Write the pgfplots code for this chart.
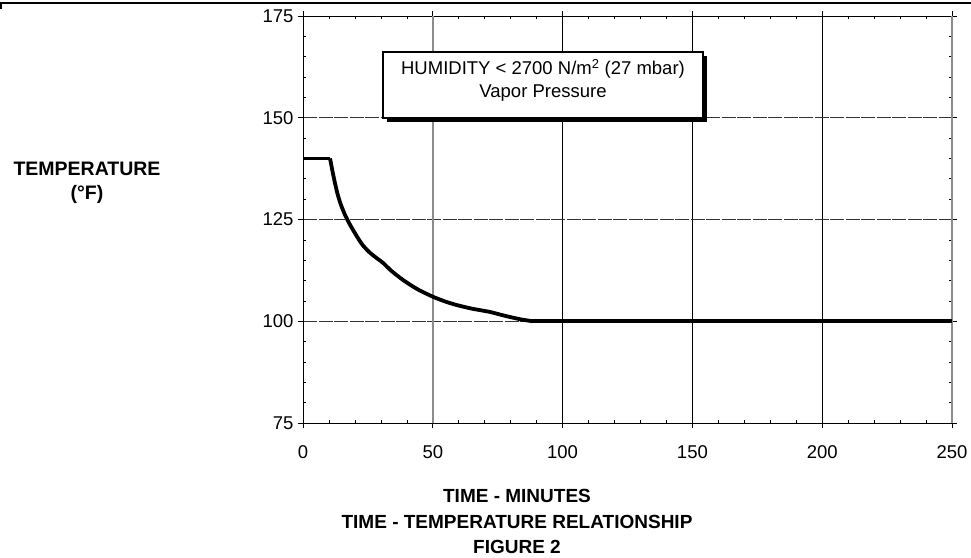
\documentclass[border=0pt]{standalone}
\usepackage{fontspec}
\setmainfont{Liberation Sans}
\usepackage{pgfplots}
\pgfplotsset{compat=1.18}
\begin{document}
\begin{tikzpicture}[x=1pt,y=1pt]
\path[use as bounding box] (0pt,0pt) rectangle (971pt,557pt);
\draw[line width=2pt] (0pt,553.5pt) -- (971pt,553.5pt);
\draw[line width=1.5pt] (0.75pt,553pt) -- (0.75pt,548pt);
\begin{axis}[
  at={(303pt,134pt)}, anchor=south west,
  scale only axis, width=649pt, height=407pt,
  xmin=0, xmax=250, ymin=75, ymax=175,
  xtick={0,50,...,250}, ytick={75,100,...,175},
  tick align=outside, major tick length=5pt,
  minor tick num=0,
  extra x ticks={10,20,30,40,60,70,80,90,110,120,130,140,160,170,180,190,210,220,230,240},
  extra y ticks={80,85,90,95,105,110,115,120,130,135,140,145,155,160,165,170},
  extra x tick labels={}, extra y tick labels={},
  extra tick style={tick align=inside, major tick length=3pt, grid=none, tick style={line width=0.6pt}},
  tick style={black, line width=0.8pt},
  grid=major,
  x grid style={black, line width=0.7pt},
  y grid style={black!80, line width=0.7pt, dash pattern=on 14pt off 1.5pt},
  axis line style={line width=0.8pt},
  /pgf/number format/assume math mode=true,
  ticklabel style={font=\fontsize{18.5}{18.5}\selectfont},
  xticklabel style={yshift=-14pt},
  yticklabel style={xshift=-1pt},
  clip=false,
]
\draw[black!45, line width=2pt] (axis cs:50,75) -- (axis cs:50,175);
\draw[black!45, line width=2pt] (axis cs:250,75) -- (axis cs:250,175);
\addplot[black, line width=3.8pt, line join=round] coordinates {
(0,140) (10.4,140)};
\addplot[black, line width=3.8pt, line join=round, smooth, tension=0.4] coordinates {
(10.4,140) (10.9,138.4) (11.5,136.4) (12.3,134) (13.3,131.3) (14.5,128.8)
(16,126.4) (17.6,124.3) (19.3,122.4) (21,120.6) (23,118.7) (25.5,117)
(28,115.7) (30.9,114.3) (34,112.4) (38.6,110.1) (44,107.9) (50.1,106.0)
(55,104.8) (59.1,104.0) (65,103.1) (71.9,102.3) (78,101.3) (84,100.45)
(88.5,100)};
\addplot[black, line width=3.8pt] coordinates {(88,100) (250,100)};
\end{axis}
% annotation box with shadow
\fill[black] (387pt,435pt) rectangle (707pt,501pt);
\draw[fill=white, line width=1.2pt] (383pt,439pt) rectangle (703pt,505pt);
\node[anchor=base, font=\fontsize{18.5}{18.5}\selectfont, inner sep=0pt] at (543pt,482pt) {HUMIDITY < 2700 N/m\textsuperscript{2} (27 mbar)};
\node[anchor=base, font=\fontsize{18.5}{18.5}\selectfont, inner sep=0pt] at (543pt,459pt) {Vapor Pressure};
% y label
\node[anchor=base, font=\fontsize{19.5}{19.5}\selectfont\bfseries, inner sep=0pt] at (87pt,381pt) {TEMPERATURE};
\node[anchor=base, font=\fontsize{19.5}{19.5}\selectfont\bfseries, inner sep=0pt] at (87pt,357pt) {(°F)};
% x label and captions
\node[anchor=base, font=\fontsize{19}{19}\selectfont\bfseries, inner sep=0pt] at (517pt,55pt) {TIME - MINUTES};
\node[anchor=base, font=\fontsize{19}{19}\selectfont\bfseries, inner sep=0pt] at (517pt,29pt) {TIME - TEMPERATURE RELATIONSHIP};
\node[anchor=base, font=\fontsize{19}{19}\selectfont\bfseries, inner sep=0pt] at (517pt,4pt) {FIGURE 2};
\end{tikzpicture}
\end{document}
